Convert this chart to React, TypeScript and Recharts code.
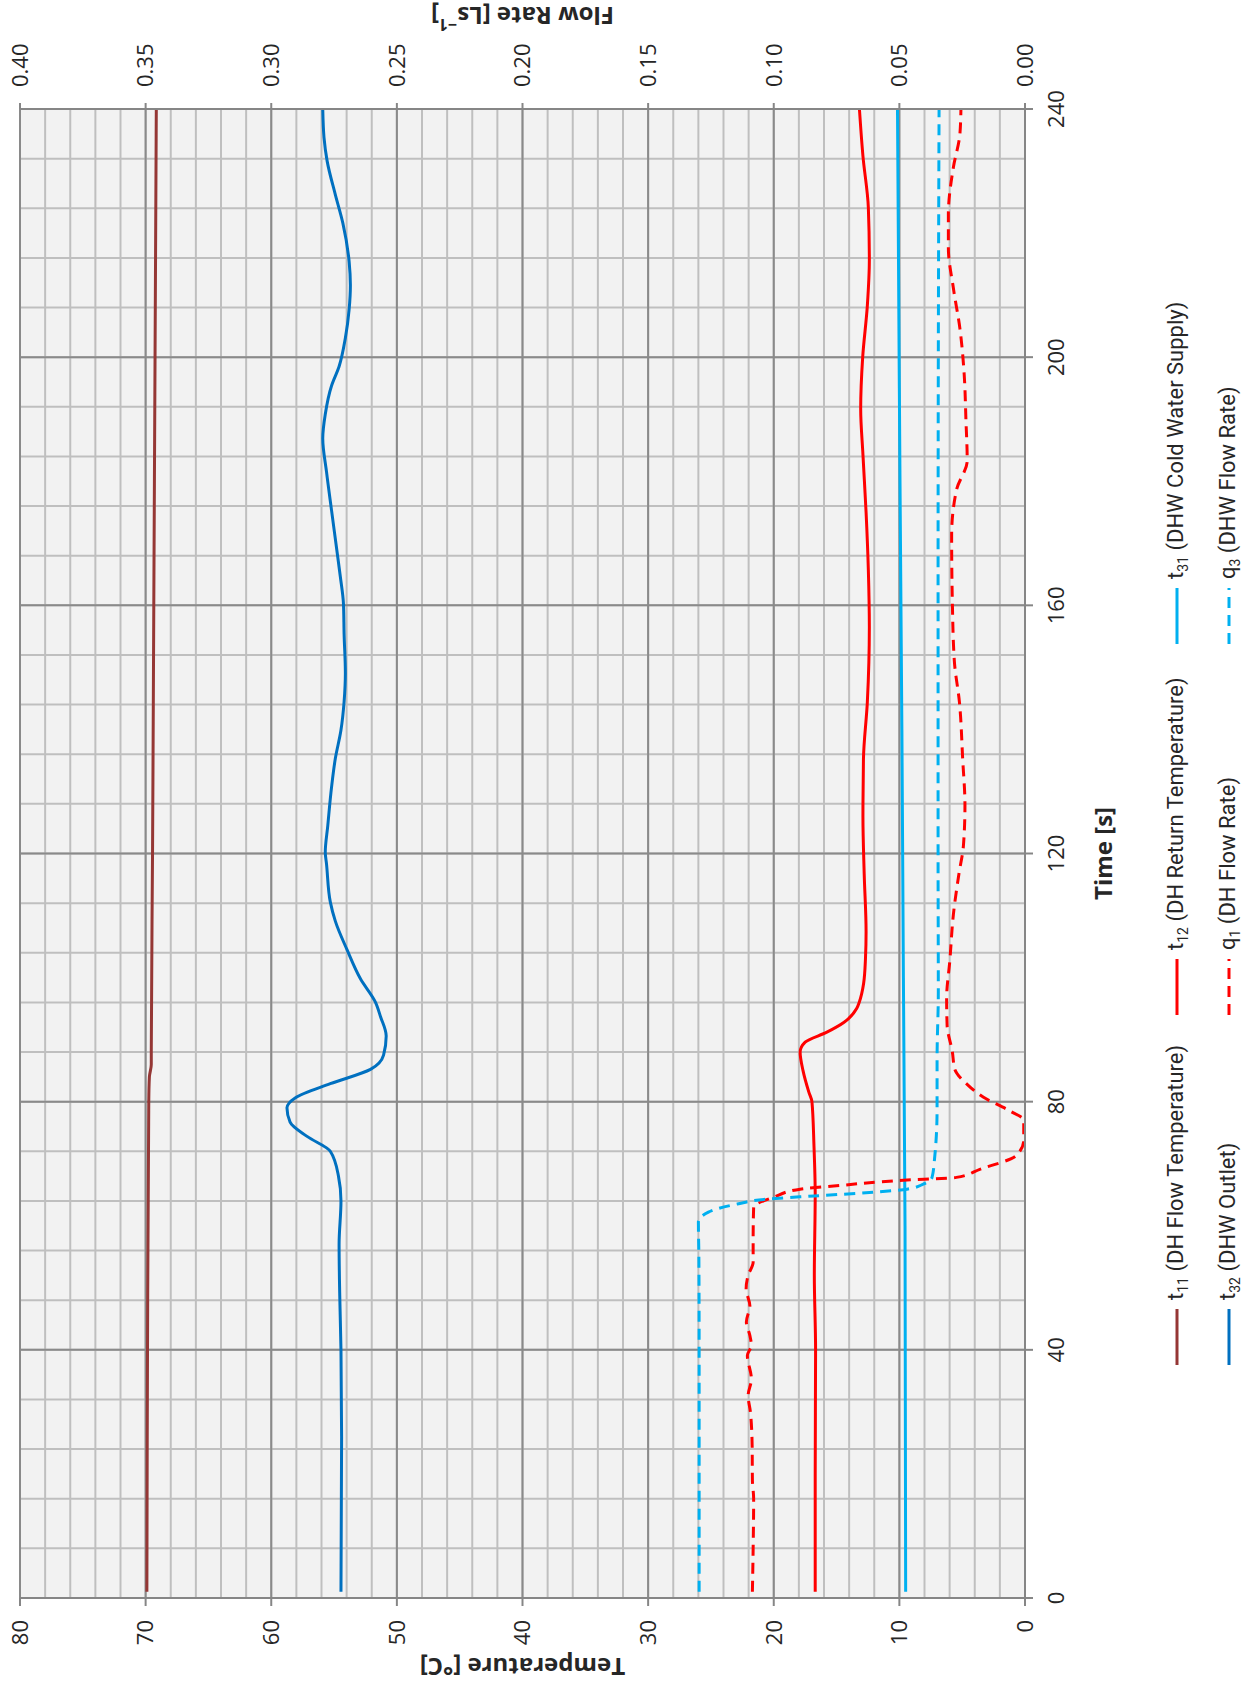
import { LineChart, Line, XAxis, YAxis, CartesianGrid } from "recharts";

// time [s] / value pairs
const t11Time = [1, 40, 80, 84, 86, 88, 120, 160, 200, 240];
const t11Temp = [69.9, 69.85, 69.75, 69.7, 69.55, 69.55, 69.45, 69.35, 69.25, 69.15];

const t12Time = [1, 20, 40, 52, 65, 73, 80, 81.5, 85, 88, 89.6, 91.2, 92.8, 95, 96, 99, 103, 107.4, 116.7, 125.9, 135.2, 144.4, 156.5, 165.7, 175, 184.3, 191.7, 200, 208.3, 215.7, 224.1, 232.4, 240];
const t12Temp = [16.7, 16.7, 16.67, 16.77, 16.7, 16.8, 16.96, 17.2, 17.67, 17.9, 17.5, 15.77, 14.4, 13.4, 13.2, 12.85, 12.7, 12.65, 12.8, 12.9, 12.86, 12.55, 12.39, 12.47, 12.65, 12.9, 13.08, 12.92, 12.55, 12.39, 12.47, 12.9, 13.18];

const t31Time = [1, 60, 100, 140, 180, 240];
const t31Temp = [9.5, 9.55, 9.68, 9.8, 9.95, 10.15];

const t32Time = [1, 26, 40, 49, 57, 64, 68, 72, 74.4, 76.7, 79, 80.6, 82.9, 85.2, 87.5, 90.6, 93.7, 96, 99.8, 104.5, 109.1, 112.2, 118.3, 120.2, 124.5, 130.7, 135.3, 139.9, 144.5, 149.1, 155.3, 160.2, 164.6, 169.2, 175.3, 181.5, 186.9, 190.8, 195.4, 198.5, 203.1, 207.7, 211.6, 215.4, 221.6, 226.2, 231.6, 235.4, 240];
const t32Temp = [54.45, 54.4, 54.45, 54.55, 54.6, 54.45, 54.65, 55.3, 57.15, 58.5, 58.75, 58.1, 55.3, 52.1, 51.06, 50.85, 51.3, 51.7, 52.9, 53.97, 54.9, 55.3, 55.6, 55.7, 55.5, 55.2, 54.9, 54.45, 54.2, 54.1, 54.2, 54.25, 54.5, 54.8, 55.2, 55.6, 55.9, 55.7, 55.2, 54.6, 54.1, 53.8, 53.7, 53.8, 54.3, 54.9, 55.55, 55.8, 55.9];

const q1Time = [1, 8, 16, 19, 24.5, 30, 32.6, 35.3, 39.1, 40.7, 42.3, 44.5, 47.1, 49.8, 52, 54.1, 58, 63, 64.6, 65.9, 66.5, 67.3, 67.8, 69.1, 71.3, 73.8, 77, 78.5, 80.7, 82.6, 85.3, 88, 92.3, 96.6, 102.8, 110.2, 116.7, 121.3, 127.8, 135.2, 144.4, 150.9, 160.2, 171.3, 178.7, 183.3, 189.8, 197.2, 204.6, 211.1, 217.6, 223, 230.6, 236, 240];
const q1Flow = [0.1085, 0.1082, 0.108, 0.1085, 0.1086, 0.1093, 0.1102, 0.1089, 0.1105, 0.1089, 0.1095, 0.1109, 0.1095, 0.111, 0.1102, 0.1082, 0.1082, 0.108, 0.1, 0.0895, 0.0735, 0.05, 0.0273, 0.018, 0.0035, 0.0005, 0.0005, 0.006, 0.0165, 0.0225, 0.028, 0.0289, 0.031, 0.0312, 0.0299, 0.0285, 0.0263, 0.0245, 0.0239, 0.0248, 0.0261, 0.0281, 0.0289, 0.0292, 0.0272, 0.023, 0.0235, 0.0242, 0.0259, 0.0285, 0.0305, 0.0305, 0.0285, 0.0259, 0.0255];

const q3Time = [1, 20, 40, 55, 60.6, 62.2, 63.5, 64.3, 64.8, 65.4, 65.9, 66.7, 67.8, 70.8, 78.8, 86.9, 97.6, 120, 160, 200, 240];
const q3Flow = [0.1297, 0.1297, 0.1297, 0.1298, 0.13, 0.126, 0.1145, 0.1025, 0.084, 0.0605, 0.047, 0.0405, 0.037, 0.036, 0.035, 0.035, 0.0345, 0.0346, 0.0346, 0.0345, 0.0342];

const timeTicks = [0, 40, 80, 120, 160, 200, 240];
const tempTicks = [0, 10, 20, 30, 40, 50, 60, 70, 80];
const flowTicks = [0, 0.05, 0.1, 0.15, 0.2, 0.25, 0.3, 0.35, 0.4];
const timeMinor = Array.from({ length: 31 }, (_, i) => i * 8);
const tempMinor = Array.from({ length: 41 }, (_, i) => i * 2);

const zip = (ts: number[], vs: number[]) => ts.map((t, i) => ({ t, v: vs[i] }));

const W = 1686;
const H = 1256;
const FONT = '"Open Sans", "Noto Sans", sans-serif';
const LEGEND_FONT = '"Liberation Sans Narrow", Roboto, sans-serif';
const AXIS = "#868686";
const TEXT = "#262626";
const DASH = "11 7";

const series = [
  { id: "t11", sub: "11", sym: "t", label: "(DH Flow Temperature)", color: "#953735", dash: false, axis: "temp", data: zip(t11Time, t11Temp), col: 0, row: 0 },
  { id: "t12", sub: "12", sym: "t", label: "(DH Return Temperature)", color: "#ff0000", dash: false, axis: "temp", data: zip(t12Time, t12Temp), col: 1, row: 0 },
  { id: "t31", sub: "31", sym: "t", label: "(DHW Cold Water Supply)", color: "#00b0f0", dash: false, axis: "temp", data: zip(t31Time, t31Temp), col: 2, row: 0 },
  { id: "t32", sub: "32", sym: "t", label: "(DHW Outlet)", color: "#0070c0", dash: false, axis: "temp", data: zip(t32Time, t32Temp), col: 0, row: 1 },
  { id: "q1", sub: "1", sym: "q", label: "(DH Flow Rate)", color: "#ff0000", dash: true, axis: "flow", data: zip(q1Time, q1Flow), col: 1, row: 1 },
  { id: "q3", sub: "3", sym: "q", label: "(DHW Flow Rate)", color: "#00b0f0", dash: true, axis: "flow", data: zip(q3Time, q3Flow), col: 2, row: 1 },
];

const legendCols = [320, 670, 1041];
const legendRows = [1177, 1229];

const tickStyle = { fill: TEXT, fontSize: 22, fontFamily: FONT };
const titleStyle = { fill: TEXT, fontSize: 24, fontFamily: FONT, fontWeight: 700 };

export default function App() {
  return (
    <div style={{ position: "fixed", left: 0, top: 0, width: 1256, height: 1686, overflow: "hidden", background: "#fff" }}>
      <div
        style={{
          position: "absolute",
          left: (1256 - W) / 2,
          top: (1686 - H) / 2,
          width: W,
          height: H,
          transform: "rotate(-90deg)",
          transformOrigin: "center",
        }}
      >
        <LineChart width={W} height={H} margin={{ top: 20, right: 0, bottom: 0, left: 0 }}>
          <XAxis
            xAxisId="t"
            type="number"
            dataKey="t"
            domain={[0, 240]}
            ticks={timeTicks}
            allowDataOverflow
            height={231}
            tickSize={8}
            tickMargin={15}
            axisLine={{ stroke: AXIS, strokeWidth: 2 }}
            tickLine={{ stroke: AXIS, strokeWidth: 2 }}
            tick={tickStyle}
            label={(p: any) => {
              const vb = p.viewBox;
              return (
                <text x={vb.x + vb.width / 2} y={vb.y + 77} textAnchor="middle" dominantBaseline="central" style={titleStyle}>
                  Time [s]
                </text>
              );
            }}
          />
          <YAxis
            yAxisId="temp"
            orientation="left"
            type="number"
            domain={[0, 80]}
            ticks={tempTicks}
            allowDataOverflow
            width={88}
            tickSize={8}
            tickMargin={14}
            axisLine={{ stroke: AXIS, strokeWidth: 2 }}
            tickLine={{ stroke: AXIS, strokeWidth: 2 }}
            tick={tickStyle}
            label={(p: any) => {
              const vb = p.viewBox;
              const cx = vb.x + 19;
              const cy = vb.y + vb.height / 2;
              return (
                <text x={cx} y={cy} transform={`rotate(-90 ${cx} ${cy})`} textAnchor="middle" dominantBaseline="central" style={titleStyle}>
                  Temperature [°C]
                </text>
              );
            }}
          />
          <YAxis
            yAxisId="flow"
            orientation="right"
            type="number"
            domain={[0, 0.4]}
            ticks={flowTicks}
            allowDataOverflow
            width={109}
            tickSize={6}
            tickMargin={16}
            tickFormatter={(v: number) => v.toFixed(2)}
            axisLine={{ stroke: AXIS, strokeWidth: 2 }}
            tickLine={{ stroke: AXIS, strokeWidth: 2 }}
            tick={tickStyle}
            label={(p: any) => {
              const vb = p.viewBox;
              const cx = vb.x + 93;
              const cy = vb.y + vb.height / 2;
              return (
                <text x={cx} y={cy} transform={`rotate(-90 ${cx} ${cy})`} textAnchor="middle" dominantBaseline="central" style={titleStyle}>
                  Flow Rate [Ls
                  <tspan dy={-9} fontSize={16}>−1</tspan>
                  <tspan dy={9}>]</tspan>
                </text>
              );
            }}
          />
          {/* hidden axes only used for the light minor grid */}
          <XAxis xAxisId="minor" type="number" dataKey="t" domain={[0, 240]} ticks={timeMinor} hide height={0} allowDataOverflow />
          <YAxis yAxisId="minor" type="number" domain={[0, 80]} ticks={tempMinor} hide width={0} allowDataOverflow />
          <CartesianGrid xAxisId="minor" yAxisId="minor" stroke="#bfbfbf" strokeWidth={2} fill="#f2f2f2" fillOpacity={1} />
          <CartesianGrid xAxisId="t" yAxisId="temp" stroke="#8a8a8a" strokeWidth={2} />

          {series.map((s) => (
            <Line
              key={s.id}
              xAxisId="t"
              yAxisId={s.axis}
              data={s.data}
              dataKey="v"
              type="monotone"
              stroke={s.color}
              strokeWidth={3}
              strokeDasharray={s.dash ? DASH : undefined}
              dot={false}
              activeDot={false}
              isAnimationActive={false}
            />
          ))}
        </LineChart>

        {series.map((s) => (
          <div
            key={s.id}
            style={{
              position: "absolute",
              left: legendCols[s.col],
              top: legendRows[s.row] - 15,
              height: 30,
              display: "flex",
              alignItems: "center",
              fontFamily: LEGEND_FONT,
              fontSize: 22,
              color: TEXT,
              whiteSpace: "nowrap",
            }}
          >
            <svg width={58} height={10} style={{ marginRight: 8 }}>
              <line x1={1} y1={5} x2={57} y2={5} stroke={s.color} strokeWidth={3} strokeDasharray={s.dash ? DASH : undefined} />
            </svg>
            <span>
              {s.sym}
              <sub style={{ fontSize: 14 }}>{s.sub}</sub> {s.label}
            </span>
          </div>
        ))}
      </div>
    </div>
  );
}
